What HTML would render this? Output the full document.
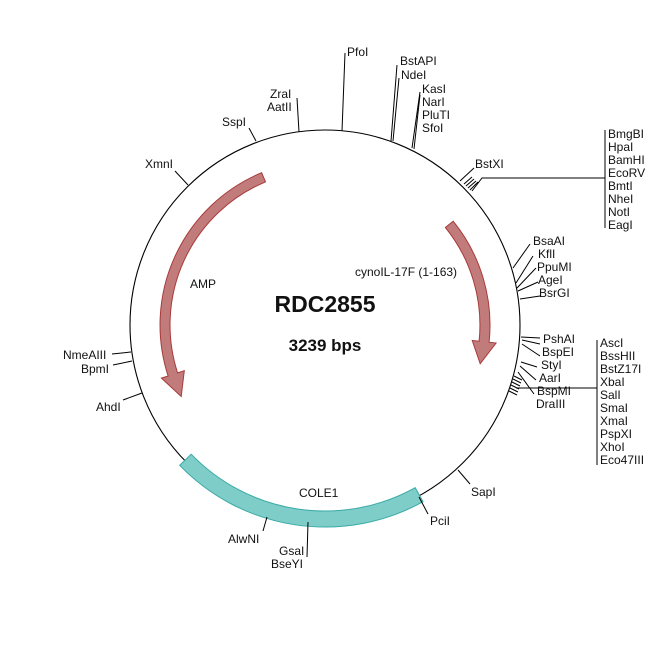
<!DOCTYPE html>
<html><head><meta charset="utf-8"><style>
html,body{margin:0;padding:0;background:#fff;}
svg{display:block;}
text{font-family:"Liberation Sans",Arial,sans-serif;font-size:12px;fill:#111;}
</style></head><body>
<svg width="650" height="650" viewBox="0 0 650 650" xmlns="http://www.w3.org/2000/svg">
<rect width="650" height="650" fill="#fff"/>
<circle cx="325" cy="325" r="195" fill="none" stroke="#000" stroke-width="1.1"/>

<!-- AMP arrow -->
<path d="M261.6,172.7 A165,165 0 0 0 168.1,376.0 L161.4,378.1 L181.2,396.5 L184.3,370.7 L177.6,372.9 A155,155 0 0 1 265.5,181.9 Z" fill="#c27b7b" stroke="#a83a3a" stroke-width="1"/>
<!-- cyno arrow -->
<path d="M453.2,221.2 A165,165 0 0 1 489.1,342.2 L496.1,343.0 L480.2,363.7 L472.2,340.5 L479.1,341.2 A155,155 0 0 0 445.4,227.5 Z" fill="#c27b7b" stroke="#a83a3a" stroke-width="1"/>
<!-- COLE1 -->
<path d="M423.0,501.7 A202,202 0 0 1 179.7,465.3 L191.2,454.2 A186,186 0 0 0 415.2,487.7 Z" fill="#7ecdc9" stroke="#3aaaa4" stroke-width="1"/>

<g stroke="#000" stroke-width="1" fill="none">
<!-- top -->
<polyline points="342,131 345,53"/>
<polyline points="391,141 397,65"/>
<polyline points="393,141 399,78"/>
<polyline points="412,148 420,92"/>
<polyline points="414,149 420,95"/>
<polyline points="460,181 474,168"/>
<polyline points="464,184 472,177"/>
<polyline points="466,186 474,179"/>
<polyline points="468,188 476,181"/>
<polyline points="470,190 478,182"/>
<polyline points="472,191 482,178 605,178"/>
<line x1="605" y1="130" x2="605" y2="228"/>
<!-- right -->
<polyline points="513,268 530,244"/>
<polyline points="516,283 533,256"/>
<polyline points="517,288 536,268"/>
<polyline points="518,291 538,282"/>
<polyline points="520,299 540,296"/>
<polyline points="521,337 540,338"/>
<polyline points="522,340 540,344"/>
<polyline points="522,344 540,356"/>
<polyline points="521,362 537,367"/>
<polyline points="520,366 536,380"/>
<polyline points="518,372 534,394"/>
<line x1="514" y1="376" x2="522" y2="380"/>
<line x1="513" y1="379" x2="521" y2="383"/>
<line x1="512" y1="382" x2="520" y2="386"/>
<line x1="511" y1="385" x2="519" y2="389"/>
<line x1="510" y1="388" x2="518" y2="392"/>
<line x1="509" y1="391" x2="517" y2="395"/>
<polyline points="516,388 597,388"/>
<line x1="597" y1="340" x2="597" y2="465"/>
<!-- left/top-left -->
<polyline points="188,185 175,171"/>
<polyline points="256,141 249,128"/>
<polyline points="299,132 297,98"/>
<polyline points="131,352 112,354"/>
<polyline points="132,361 113,365"/>
<polyline points="142,393 123,400"/>
<!-- bottom -->
<polyline points="458,470 470,484"/>
<polyline points="419,497 428,514"/>
<polyline points="267,517 263,531"/>
<polyline points="308,522 307,557"/>
</g>

<text x="347" y="56">PfoI</text>
<text x="400" y="65">BstAPI</text>
<text x="401" y="79">NdeI</text>
<text x="422" y="93">KasI</text>
<text x="422" y="106">NarI</text>
<text x="422" y="119">PluTI</text>
<text x="422" y="132">SfoI</text>
<text x="475" y="168">BstXI</text>
<text x="608" y="138">BmgBI</text>
<text x="608" y="151">HpaI</text>
<text x="608" y="164">BamHI</text>
<text x="608" y="177">EcoRV</text>
<text x="608" y="190">BmtI</text>
<text x="608" y="203">NheI</text>
<text x="608" y="216">NotI</text>
<text x="608" y="229">EagI</text>

<text x="533" y="245">BsaAI</text>
<text x="538" y="258">KflI</text>
<text x="537" y="271">PpuMI</text>
<text x="538" y="284">AgeI</text>
<text x="539" y="297">BsrGI</text>
<text x="543" y="343">PshAI</text>
<text x="542" y="356">BspEI</text>
<text x="541" y="369">StyI</text>
<text x="539" y="382">AarI</text>
<text x="537" y="395">BspMI</text>
<text x="536" y="408">DraIII</text>
<text x="600" y="347">AscI</text>
<text x="600" y="360">BssHII</text>
<text x="600" y="373">BstZ17I</text>
<text x="600" y="386">XbaI</text>
<text x="600" y="399">SalI</text>
<text x="600" y="412">SmaI</text>
<text x="600" y="425">XmaI</text>
<text x="600" y="438">PspXI</text>
<text x="600" y="451">XhoI</text>
<text x="600" y="464">Eco47III</text>

<text x="145" y="168">XmnI</text>
<text x="222" y="126">SspI</text>
<text x="270" y="98">ZraI</text>
<text x="267" y="111">AatII</text>
<text x="63" y="359">NmeAIII</text>
<text x="81" y="373">BpmI</text>
<text x="96" y="411">AhdI</text>
<text x="471" y="496">SapI</text>
<text x="430" y="525">PciI</text>
<text x="228" y="543">AlwNI</text>
<text x="279" y="555">GsaI</text>
<text x="271" y="568">BseYI</text>

<text x="190" y="288">AMP</text>
<text x="355" y="276">cynoIL-17F (1-163)</text>
<text x="299" y="497">COLE1</text>
<text x="325" y="312" text-anchor="middle" style="font-size:23px;font-weight:bold">RDC2855</text>
<text x="325" y="351" text-anchor="middle" style="font-size:17px;font-weight:bold">3239 bps</text>
</svg>
</body></html>
